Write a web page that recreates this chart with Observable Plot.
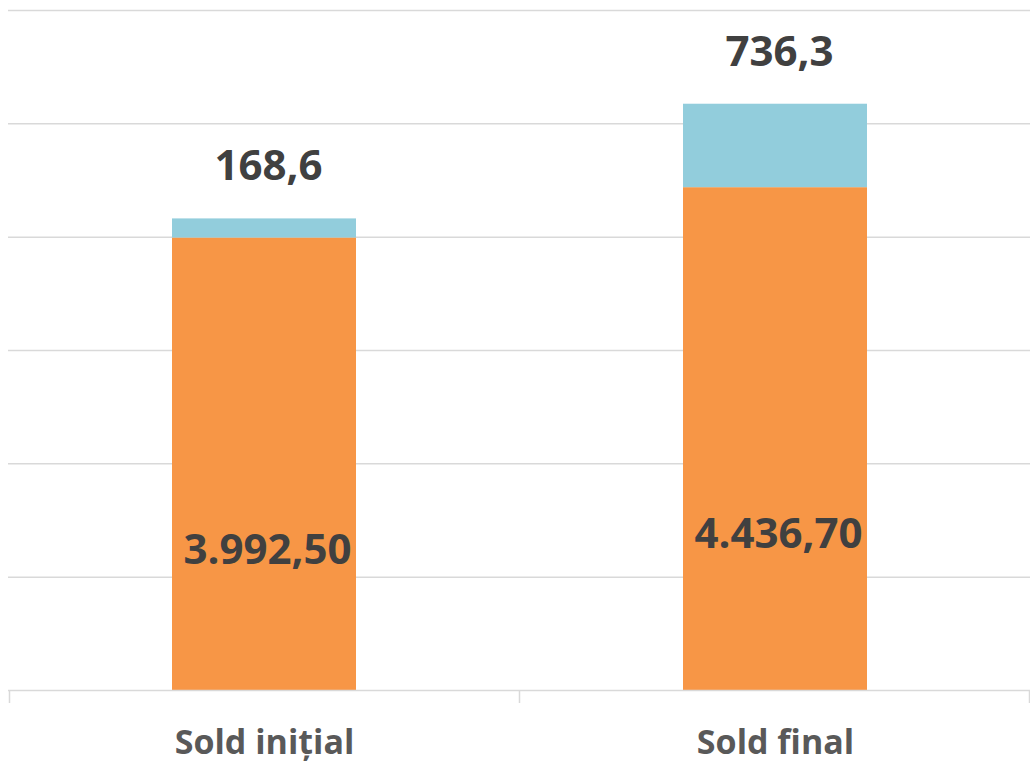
<!DOCTYPE html>
<html>
<head>
<meta charset="utf-8">
<script src="https://cdn.jsdelivr.net/npm/d3@7"></script>
<script src="https://cdn.jsdelivr.net/npm/@observablehq/plot@0.6"></script>
<style>
  html, body { margin: 0; padding: 0; background: #fff; }
  #chart svg { display: block; font-family: "Open Sans", sans-serif; }
</style>
</head>
<body>
<div id="chart"></div>
<script>
const categories = ["Sold inițial", "Sold final"];
const seriesNames = ["Bază", "Variație"];
const baseValues = [3992.5, 4436.7];
const topValues = [168.6, 736.3];
const baseLabels = ["3.992,50", "4.436,70"];
const topLabels = ["168,6", "736,3"];
const yTicks = [0, 1000, 2000, 3000, 4000, 5000, 6000];
const colors = ["#F79646", "#92CDDC"];

const rows = [];
categories.forEach((c, i) => {
  rows.push({cat: c, series: seriesNames[0], value: baseValues[i]});
  rows.push({cat: c, series: seriesNames[1], value: topValues[i]});
});
const labelRows = categories.map((c, i) => ({
  cat: c, base: baseValues[i], total: baseValues[i] + topValues[i],
  baseLabel: baseLabels[i], topLabel: topLabels[i]
}));

const dividers = (index, scales, values, dimensions) => {
  const x = scales.x;
  const bw = typeof x.bandwidth === "function" ? x.bandwidth() : x.bandwidth;
  const c0 = x(categories[0]), c1 = x(categories[1]);
  const gap = (c1 - c0) - bw;
  const xs = [c0 - gap / 2 + 1, c0 + bw + gap / 2, c1 + bw + gap / 2 - 1];
  const y0 = scales.y(0);
  const g = d3.create("svg:g");
  xs.forEach(xx => {
    g.append("line").attr("x1", xx).attr("x2", xx).attr("y1", y0).attr("y2", y0 + 13)
      .attr("stroke", "#d9d9d9").attr("stroke-width", 1.5);
  });
  return g.node();
};

const chart = Plot.plot({
  width: 1030,
  height: 765,
  marginLeft: 8,
  marginRight: 0,
  marginTop: 10,
  marginBottom: 75,
  style: {fontFamily: "Open Sans", background: "#fff"},
  x: {domain: categories, paddingInner: 0.64, paddingOuter: 0.32, label: null},
  y: {domain: [0, 6000], label: null, axis: null},
  color: {domain: seriesNames, range: colors},
  marks: [
    Plot.gridY(yTicks.slice(1), {stroke: "#d9d9d9", strokeOpacity: 1, strokeWidth: 1.5}),
    Plot.barY(rows, {x: "cat", y: "value", fill: "series"}),
    Plot.ruleY([0], {stroke: "#d9d9d9", strokeWidth: 1.5}),
    dividers,
    Plot.axisX({tickSize: 0, tickPadding: 39, fontSize: 34, fontWeight: 700, fill: "#595959", label: null}),
    Plot.text(labelRows, {x: "cat", y: d => d.base * 0.31, dx: 3, text: "baseLabel",
      fontSize: 42, fontWeight: 700, fill: "#404040"}),
    Plot.text(labelRows, {x: "cat", y: "total", dy: -52, dx: 4, text: "topLabel",
      fontSize: 42, fontWeight: 700, fill: "#404040"})
  ]
});
document.getElementById("chart").append(chart);
</script>
</body>
</html>
